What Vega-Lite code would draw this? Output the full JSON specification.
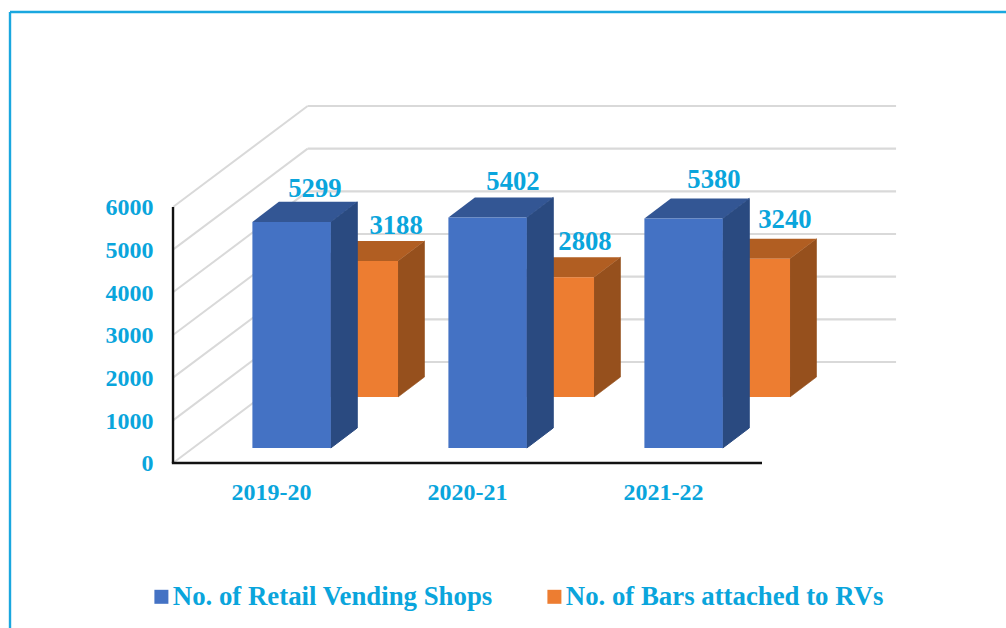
{
"$schema":"https://vega.github.io/schema/vega-lite/v6.json",
"width":1006,"height":628,"padding":0,"autosize":"none","background":"white",
"config":{"view":{"stroke":null}},
"datasets":{
"bars":[
{"period":"2019-20","series":"No. of Retail Vending Shops","value":5299},
{"period":"2020-21","series":"No. of Retail Vending Shops","value":5402},
{"period":"2021-22","series":"No. of Retail Vending Shops","value":5380},
{"period":"2019-20","series":"No. of Bars attached to RVs","value":3188},
{"period":"2020-21","series":"No. of Bars attached to RVs","value":2808},
{"period":"2021-22","series":"No. of Bars attached to RVs","value":3240}
],
"levels":[{"level":0},{"level":1000},{"level":2000},{"level":3000},{"level":4000},{"level":5000},{"level":6000}],
"one":[{"item":"frame"}]
},
"data":{"name":"bars"},
"transform":[
{"calculate":"indexof(['2019-20','2020-21','2021-22'],datum.period)","as":"i"},
{"calculate":"datum.series=='No. of Retail Vending Shops'?0:1","as":"s"},
{"calculate":"datum.i-0.1+datum.s*0.343","as":"x0"},
{"calculate":"datum.x0+0.4","as":"x1"},
{"calculate":"datum.s==0?352:1547","as":"base"},
{"calculate":"datum.base+datum.value","as":"top"},
{"calculate":"datum.i+[[0.219,0.2296,0.255],[0.633,0.597,0.617]][datum.s][datum.i]","as":"labelX"},
{"calculate":"datum.top+[[583,644,706],[632,637,713]][datum.s][datum.i]","as":"labelY"},
{"calculate":"[0,1]","as":"t"},
{"flatten":["t"]},
{"calculate":"datum.x0+datum.t*0.135","as":"fx0"},
{"calculate":"datum.x1+datum.t*0.135","as":"fx1"},
{"calculate":"datum.top+datum.t*469","as":"ftop"},
{"calculate":"datum.base+datum.t*469","as":"fbase"}
],
"layer":[
{"data":{"name":"levels"},
 "transform":[{"calculate":"datum.level+2367","as":"back"}],
 "mark":{"type":"rule","color":"#d9d9d9","strokeWidth":2},
 "encoding":{
  "x":{"datum":-0.505,"type":"quantitative","scale":{"domain":[-1.38776,3.7449],"nice":false,"zero":false},"axis":{"values":[0,1,2],"labelExpr":"['2019-20','2020-21','2021-22'][datum.value]","orient":"bottom","offset":-165,"title":null,"grid":false,"ticks":false,"domain":false,"labelFont":"Liberation Serif","labelFontWeight":"bold","labelFontSize":24,"labelColor":"#0aa5dc","labelBaseline":"alphabetic","labelPadding":36,"labelOffset":-1,"labelOverlap":false,"labelFlush":false,"labelBound":false}},
  "x2":{"datum":0.182},
  "y":{"field":"level","type":"quantitative","scale":{"domain":[-3867,10851],"nice":false,"zero":false},"axis":{"values":[0,1000,2000,3000,4000,5000,6000],"orient":"left","offset":-173,"title":null,"grid":false,"ticks":false,"domain":false,"labelFont":"Liberation Serif","labelFontWeight":"bold","labelFontSize":24,"labelColor":"#0aa5dc","labelPadding":20,"labelOffset":1,"labelOverlap":false,"labelFlush":false,"labelBound":false,"format":"d"}},
  "y2":{"field":"back"}
 }},
{"data":{"name":"levels"},
 "transform":[{"calculate":"datum.level+2367","as":"back"}],
 "mark":{"type":"rule","color":"#d9d9d9","strokeWidth":2.2},
 "encoding":{
  "x":{"datum":0.182,"type":"quantitative","scale":{"domain":[-1.38776,3.7449],"nice":false,"zero":false}},
  "x2":{"datum":3.184},
  "y":{"field":"back","type":"quantitative","scale":{"domain":[-3867,10851],"nice":false,"zero":false}}
 }},
{"data":{"name":"one"},
 "mark":{"type":"rule","color":"#111111","strokeWidth":2.4},
 "encoding":{
  "x":{"datum":-0.505,"type":"quantitative","scale":{"domain":[-1.38776,3.7449],"nice":false,"zero":false}},
  "y":{"datum":0,"type":"quantitative","scale":{"domain":[-3867,10851],"nice":false,"zero":false}},
  "y2":{"datum":6000}
 }},
{"data":{"name":"one"},
 "mark":{"type":"rule","color":"#111111","strokeWidth":2.4},
 "encoding":{
  "x":{"datum":-0.511,"type":"quantitative","scale":{"domain":[-1.38776,3.7449],"nice":false,"zero":false}},
  "x2":{"datum":2.5},
  "y":{"datum":0,"type":"quantitative","scale":{"domain":[-3867,10851],"nice":false,"zero":false}}
 }},
{"data":{"name":"one"},
 "mark":{"type":"rule","color":"#1aa7df","strokeWidth":2.4},
 "encoding":{
  "x":{"datum":-1.3367,"type":"quantitative","scale":{"domain":[-1.38776,3.7449],"nice":false,"zero":false}},
  "y":{"datum":10570,"type":"quantitative","scale":{"domain":[-3867,10851],"nice":false,"zero":false}},
  "y2":{"datum":-3867}
 }},
{"data":{"name":"one"},
 "mark":{"type":"rule","color":"#1aa7df","strokeWidth":2.4},
 "encoding":{
  "x":{"datum":-1.3367,"type":"quantitative","scale":{"domain":[-1.38776,3.7449],"nice":false,"zero":false}},
  "x2":{"datum":3.7449},
  "y":{"datum":10570,"type":"quantitative","scale":{"domain":[-3867,10851],"nice":false,"zero":false}}
 }},
{"transform":[{"filter":"datum.s==1"}],
 "mark":{"type":"area","orient":"vertical","color":"#96501d","line":false,"stroke":"#96501d","strokeWidth":0.6},
 "encoding":{
  "x":{"field":"fx1","type":"quantitative","scale":{"domain":[-1.38776,3.7449],"nice":false,"zero":false}},
  "y":{"field":"ftop","type":"quantitative","stack":null,"scale":{"domain":[-3867,10851],"nice":false,"zero":false}},
  "y2":{"field":"fbase"},
  "detail":{"field":"period"}
 }},
{"transform":[{"filter":"datum.s==1"}],
 "mark":{"type":"area","orient":"horizontal","color":"#b15e22"},
 "encoding":{
  "y":{"field":"ftop","type":"quantitative","scale":{"domain":[-3867,10851],"nice":false,"zero":false}},
  "x":{"field":"fx0","type":"quantitative","stack":null,"scale":{"domain":[-1.38776,3.7449],"nice":false,"zero":false}},
  "x2":{"field":"fx1"},
  "detail":{"field":"period"}
 }},
{"transform":[{"filter":"datum.s==1&&datum.t==0"}],
 "mark":{"type":"rect"},
 "encoding":{
  "x":{"field":"x0","type":"quantitative","scale":{"domain":[-1.38776,3.7449],"nice":false,"zero":false}},
  "x2":{"field":"x1"},
  "y":{"field":"top","type":"quantitative","scale":{"domain":[-3867,10851],"nice":false,"zero":false}},
  "y2":{"field":"base"},
  "color":{"field":"series","type":"nominal","scale":{"domain":["No. of Retail Vending Shops","No. of Bars attached to RVs"],"range":["#4472c4","#ed7d31"]},
   "legend":{"title":null,"orient":"none","legendX":148,"legendY":583,"direction":"horizontal","columns":2,"columnPadding":48,"symbolType":"square","symbolSize":196,"symbolStrokeWidth":0,"labelFont":"Liberation Serif","labelFontWeight":"bold","labelFontSize":26.8,"labelColor":"#0aa5dc","labelOffset":-2,"labelLimit":600,"padding":0}}
 }},
{"transform":[{"filter":"datum.s==0"}],
 "mark":{"type":"area","orient":"vertical","color":"#2a4a80","stroke":"#2a4a80","strokeWidth":1},
 "encoding":{
  "x":{"field":"fx1","type":"quantitative","scale":{"domain":[-1.38776,3.7449],"nice":false,"zero":false}},
  "y":{"field":"ftop","type":"quantitative","stack":null,"scale":{"domain":[-3867,10851],"nice":false,"zero":false}},
  "y2":{"field":"fbase"},
  "detail":{"field":"period"}
 }},
{"transform":[{"filter":"datum.s==0"}],
 "mark":{"type":"area","orient":"horizontal","color":"#335694"},
 "encoding":{
  "y":{"field":"ftop","type":"quantitative","scale":{"domain":[-3867,10851],"nice":false,"zero":false}},
  "x":{"field":"fx0","type":"quantitative","stack":null,"scale":{"domain":[-1.38776,3.7449],"nice":false,"zero":false}},
  "x2":{"field":"fx1"},
  "detail":{"field":"period"}
 }},
{"transform":[{"filter":"datum.s==0&&datum.t==0"}],
 "mark":{"type":"rect"},
 "encoding":{
  "x":{"field":"x0","type":"quantitative","scale":{"domain":[-1.38776,3.7449],"nice":false,"zero":false}},
  "x2":{"field":"x1"},
  "y":{"field":"top","type":"quantitative","scale":{"domain":[-3867,10851],"nice":false,"zero":false}},
  "y2":{"field":"base"},
  "color":{"field":"series","type":"nominal","scale":{"domain":["No. of Retail Vending Shops","No. of Bars attached to RVs"],"range":["#4472c4","#ed7d31"]},
   "legend":{"title":null,"orient":"none","legendX":148,"legendY":583,"direction":"horizontal","columns":2,"columnPadding":48,"symbolType":"square","symbolSize":196,"symbolStrokeWidth":0,"labelFont":"Liberation Serif","labelFontWeight":"bold","labelFontSize":26.8,"labelColor":"#0aa5dc","labelOffset":-2,"labelLimit":600,"padding":0}}
 }},
{"transform":[{"filter":"datum.t==0"}],
 "mark":{"type":"text","font":"Liberation Serif","fontWeight":"bold","fontSize":26.7,"color":"#0aa5dc","align":"center","baseline":"alphabetic"},
 "encoding":{
  "x":{"field":"labelX","type":"quantitative","scale":{"domain":[-1.38776,3.7449],"nice":false,"zero":false}},
  "y":{"field":"labelY","type":"quantitative","scale":{"domain":[-3867,10851],"nice":false,"zero":false}},
  "text":{"field":"value","type":"quantitative","format":"d"}
 }}
]
}
